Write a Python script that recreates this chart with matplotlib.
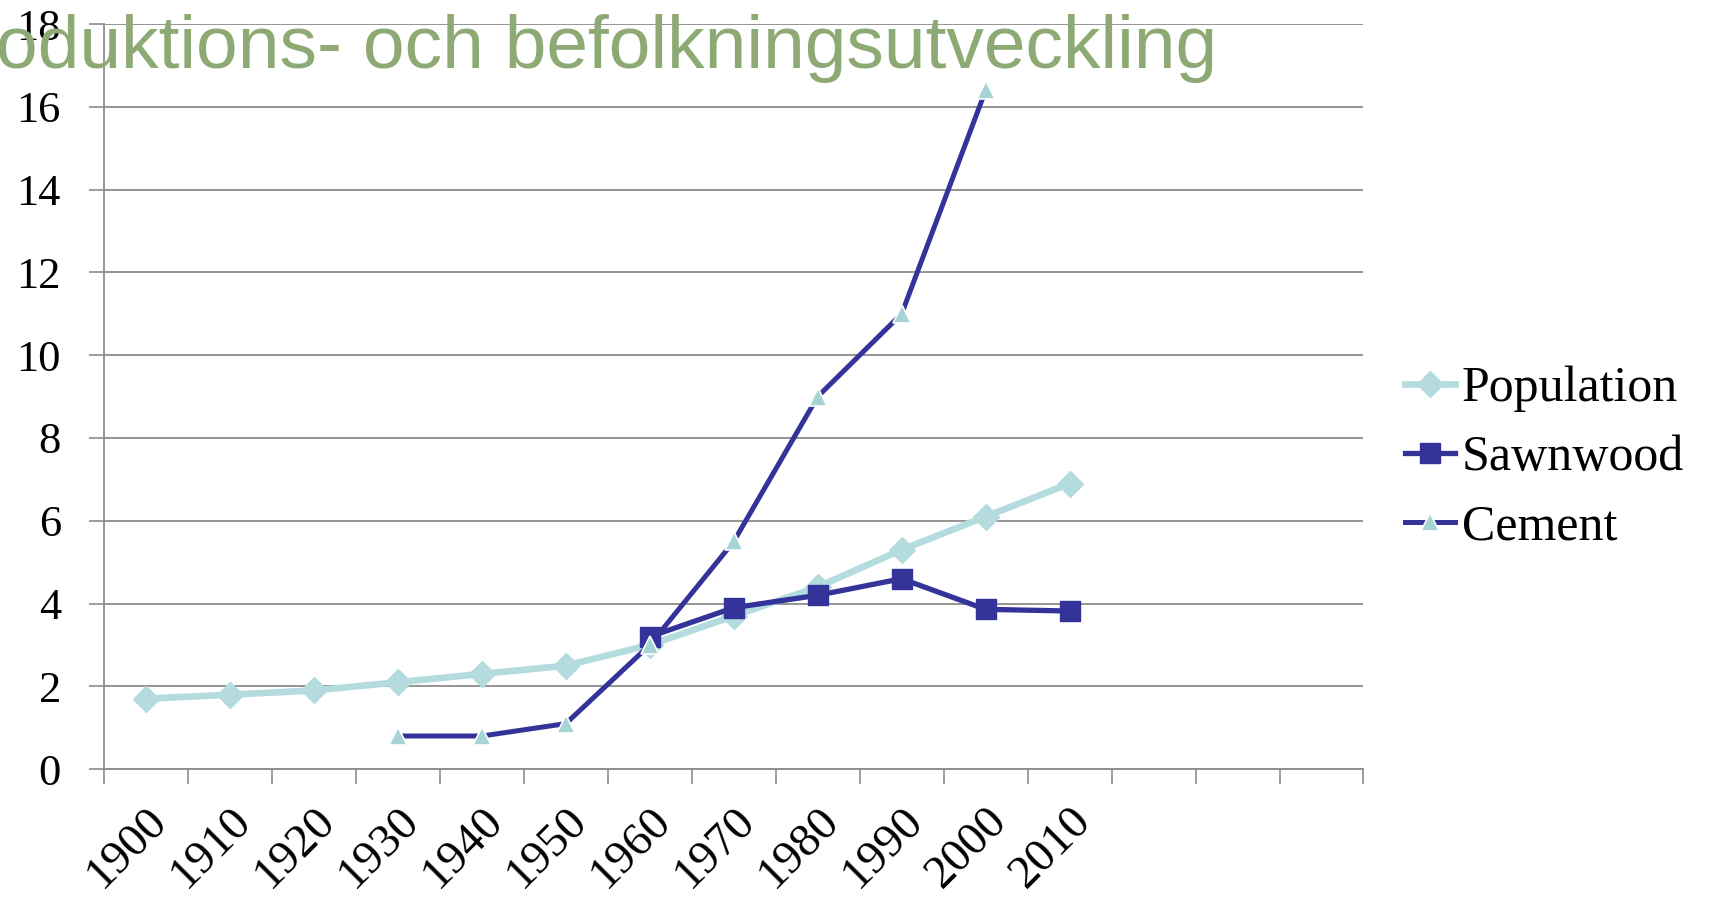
import numpy as np
import matplotlib.pyplot as plt

# category labels (the last three slots are empty in the original chart)
years = ['1900', '1910', '1920', '1930', '1940', '1950', '1960', '1970',
         '1980', '1990', '2000', '2010', '', '', '']

population = [1.7, 1.8, 1.9, 2.1, 2.3, 2.5, 3.0, 3.7, 4.4, 5.3, 6.1, 6.9]
sawnwood = [None, None, None, None, None, None, 3.2, 3.9, 4.2, 4.6, 3.86, 3.82]
cement = [None, None, None, 0.8, 0.8, 1.1, 3.0, 5.5, 9.0, 11.0, 16.4]

title = 'Produktions- och befolkningsutveckling'

light = '#b4dcdf'
navy = '#333399'
grid_col = '#8c8c8c'


def to_arr(vals):
    return np.array([np.nan if v is None else v for v in vals], dtype=float)


fig = plt.figure(figsize=(17.17, 9.07), dpi=100)
ax = fig.add_axes([0.0606, 0.152, 0.7335, 0.8215])

x_pop = np.arange(len(population))
x_saw = np.arange(len(sawnwood))
x_cem = np.arange(len(cement))

ax.plot(x_pop, population, color=light, lw=4.8, marker='D', ms=13,
        mfc=light, mec=light, label='Population', zorder=3)
ax.plot(x_saw, to_arr(sawnwood), color=navy, lw=3.8, marker='s', ms=15,
        mfc=navy, mec=navy, label='Sawnwood', zorder=4)
ax.plot(x_cem, to_arr(cement), color=navy, lw=3.6, marker='^', ms=13,
        mfc='#a6d3d6', mec='white', mew=1.2, label='Cement', zorder=5)

n = len(years)
ax.set_xlim(-0.5, n - 0.5)
ax.set_ylim(0, 18)
ax.set_yticks(np.arange(0, 19, 2))
ax.yaxis.grid(True, color=grid_col, lw=1.3)
ax.set_axisbelow(True)

# tick marks on category boundaries, labels at centres
ax.set_xticks(np.arange(n))
ax.set_xticklabels(years, rotation=45, ha='right', rotation_mode='anchor',
                   family='Liberation Serif', fontsize=34)
ax.set_xticks(np.arange(n + 1) - 0.5, minor=True)
ax.tick_params(axis='x', which='major', length=0, pad=22)
ax.tick_params(axis='x', which='minor', length=11, width=1.2, color=grid_col)
ax.tick_params(axis='y', length=11, width=1.2, color=grid_col, pad=20)
for lab in ax.get_yticklabels():
    lab.set_family('Liberation Serif')
    lab.set_fontsize(32)

for side in ['top', 'right']:
    ax.spines[side].set_visible(False)
for side in ['left', 'bottom']:
    ax.spines[side].set_color(grid_col)
    ax.spines[side].set_linewidth(1.3)

leg = fig.legend(loc='center left', bbox_to_anchor=(0.818, 0.495),
                 frameon=False, prop={'family': 'Liberation Serif', 'size': 36},
                 handlelength=1.0, handletextpad=0.15, labelspacing=0.45,
                 borderaxespad=0, borderpad=0)

fig.text(-0.046, 0.925, title, color='#8eaa74', fontsize=54,
         family='Liberation Sans', ha='left', va='baseline')

fig.savefig('out.png', dpi=100)
